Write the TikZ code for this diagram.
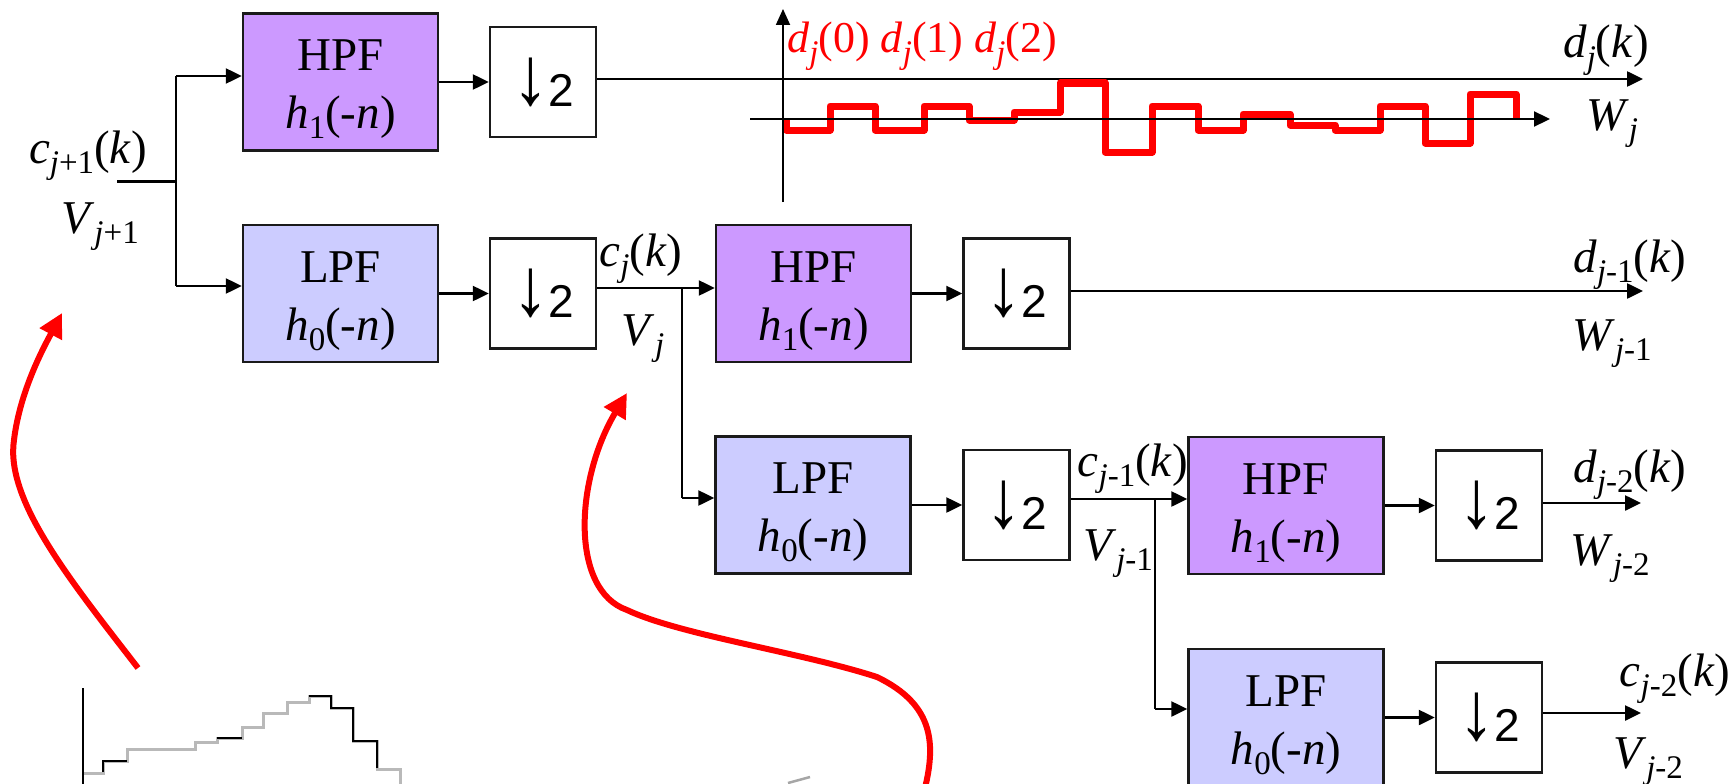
\documentclass[tikz,border=0pt]{standalone}
\usepackage{fontspec}
\setmainfont{Liberation Serif}
\newfontfamily\arialfam{Liberation Sans}
\usetikzlibrary{arrows.meta}
\definecolor{hpfc}{HTML}{CC99FF}
\definecolor{lpfc}{HTML}{CCCCFF}
\definecolor{edgec}{HTML}{1A1A1A}
\newcommand\sbx[1]{\raisebox{-10pt}{\fontsize{33}{33}\selectfont #1}}
\newcommand\iv[1]{\textit{#1}}
\newcommand\hpftext{\rule{0pt}{46pt}HPF\\\iv{h}\sbx{1}(-\iv{n})}
\newcommand\lpftext{\rule{0pt}{46pt}LPF\\\iv{h}\sbx{0}(-\iv{n})}
\newcommand\dntext{\raisebox{2pt}{\scalebox{1.6}[1.8]{↓}}\kern-1pt 2}
\begin{document}
\begin{tikzpicture}[x=1pt,y=-1pt,
  filt/.style={draw=edgec, line width=2.5pt, minimum width=195pt, minimum height=137pt, inner sep=0pt, align=center, font=\fontsize{47}{58}\selectfont},
  hpf/.style={filt, fill=hpfc},
  lpf/.style={filt, fill=lpfc},
  dbox/.style={draw=edgec, line width=2.5pt, fill=white, minimum width=106pt, minimum height=110pt, inner sep=0pt, font=\arialfam\fontsize{46}{46}\selectfont},
  conn/.style={line width=2.5pt, draw=black},
  arr/.style={conn, -{Triangle[length=16pt,width=15pt]}},
  lab/.style={inner sep=0pt, anchor=base, font=\fontsize{47}{47}\selectfont},
  redlab/.style={inner sep=0pt, anchor=base west, text=red, font=\fontsize{44}{44}\selectfont},
  redarr/.style={draw=red, line width=6pt, -{Triangle[length=24pt,width=24pt]}},
  sig/.style={draw=red, line width=7pt, line join=round},
]
\clip (0,0) rectangle (1732,784);
\fill[white] (0,0) rectangle (1732,784);

% filter and downsampler boxes
\node[hpf] (H1) at (340.5,82) {\hpftext};
\node[dbox] (D1) at (543,82) {\dntext};
\node[lpf] (L1) at (340.5,293.5) {\lpftext};
\node[dbox] (D2) at (543,293.5) {\dntext};
\node[hpf] (H2) at (813.5,293.5) {\hpftext};
\node[dbox] (D3) at (1016.5,293.5) {\dntext};
\node[lpf] (L2) at (813,505) {\lpftext};
\node[dbox] (D4) at (1016.5,505) {\dntext};
\node[hpf] (H3) at (1286,505.5) {\hpftext};
\node[dbox] (D5) at (1489,505.5) {\dntext};
\node[lpf] (L3) at (1286,717.5) {\lpftext};
\node[dbox] (D6) at (1489,717.5) {\dntext};

% junctions and free ends
\coordinate (in0) at (117,181);
\coordinate (br0) at (176,181);
\coordinate (br0t) at (176,76);
\coordinate (br0b) at (176,286);
\coordinate (brj) at (682,288);
\coordinate (brjb) at (682,498);
\coordinate (brk) at (1155,499);
\coordinate (brkb) at (1155,709);
\coordinate (endA) at (1643,79);
\coordinate (endB) at (1643,291);
\coordinate (endC) at (1641,503);
\coordinate (endD) at (1641,713);

% connectors
\draw[conn, line width=3pt] (in0) -- (br0);
\draw[conn] (br0t) -- (br0b);
\draw[arr] (br0t) -- (br0t -| H1.west);
\draw[arr] (br0b) -- (br0b -| L1.west);
\draw[arr] (H1.east) -- (D1.west);
\draw[arr] (L1.east) -- (D2.west);
\draw[arr] (D1.east |- endA) -- (endA);
\draw[arr] (D2.east |- brj) -- (brj -| H2.west);
\draw[conn] (brj) -- (brjb);
\draw[arr] (brjb) -- (brjb -| L2.west);
\draw[arr] (H2.east) -- (D3.west);
\draw[arr] (L2.east) -- (D4.west);
\draw[arr] (D3.east |- endB) -- (endB);
\draw[arr] (D4.east |- brk) -- (brk -| H3.west);
\draw[conn] (brk) -- (brkb);
\draw[arr] (brkb) -- (brkb -| L3.west);
\draw[arr] (H3.east) -- (D5.west);
\draw[arr] (L3.east) -- (D6.west);
\draw[arr] (D5.east |- endC) -- (endC);
\draw[arr] (D6.east |- endD) -- (endD);

% wavelet coefficient plot
\draw[sig] (786,119) -- (786,130) -- (830,130) -- (830,106) -- (875,106) -- (875,130) -- (924,130) -- (924,106) -- (969,106) -- (969,120) -- (1014,120) -- (1014,112) -- (1060,112) -- (1060,83) -- (1105,83) -- (1105,152) -- (1152,152) -- (1152,106) -- (1198,106) -- (1198,130) -- (1243,130) -- (1243,114) -- (1290,114) -- (1290,125) -- (1335,125) -- (1335,130) -- (1380,130) -- (1380,106) -- (1425,106) -- (1425,143) -- (1470,143) -- (1470,94) -- (1516,94) -- (1516,119);
\coordinate (vax0) at (783,202);
\coordinate (vax1) at (783,9);
\coordinate (hax0) at (750,119);
\coordinate (hax1) at (1550,119);
\draw[line width=1.8pt, -{Triangle[length=16pt,width=14pt]}] (vax0) -- (vax1);
\draw[arr, line width=2.2pt] (hax0) -- (hax1);

% labels
\node[lab] (lc1) at (88,163) {\iv{c}\sbx{\iv{j}+1}(\iv{k})};
\node[lab] (lv1) at (100,233) {\iv{V}\sbx{\iv{j}+1}};
\node[lab] (lcj) at (641,266) {\iv{c}\sbx{\iv{j}}(\iv{k})};
\node[lab] (lvj) at (643,345) {\iv{V}\sbx{\iv{j}}};
\node[lab] (lcj1) at (1133,476) {\iv{c}\sbx{\iv{j}-1}(\iv{k})};
\node[lab] (lvj1) at (1118,560) {\iv{V}\sbx{\iv{j}-1}};
\node[lab] (ldj) at (1606,58) {\iv{d}\sbx{\iv{j}}(\iv{k})};
\node[lab] (lwj) at (1612,130) {\iv{W}\sbx{\iv{j}}};
\node[lab] (ldj1) at (1630,272) {\iv{d}\sbx{\iv{j}-1}(\iv{k})};
\node[lab] (lwj1) at (1612,350) {\iv{W}\sbx{\iv{j}-1}};
\node[lab] (ldj2) at (1630,482) {\iv{d}\sbx{\iv{j}-2}(\iv{k})};
\node[lab] (lwj2) at (1610,565) {\iv{W}\sbx{\iv{j}-2}};
\node[lab] (lcj2) at (1675,686) {\iv{c}\sbx{\iv{j}-2}(\iv{k})};
\node[lab] (lvj2) at (1648,768) {\iv{V}\sbx{\iv{j}-2}};
\node[redlab] (rl) at (787,53) {\iv{d}\sbx{\iv{j}}(0) \iv{d}\sbx{\iv{j}}(1) \iv{d}\sbx{\iv{j}}(2)};

% red curved arrows
\coordinate (a1s) at (138,668);
\coordinate (a1m) at (14,440);
\coordinate (a1t) at (62,313);
\draw[redarr] (a1s) .. controls (70,580) and (5,500) .. (a1m) .. controls (20,390) and (45,345) .. (a1t);
\coordinate (a2s) at (924,792);
\coordinate (a2m) at (877,677);
\coordinate (a2n) at (627,610);
\coordinate (a2t) at (627,393);
\draw[redarr] (a2s) .. controls (936,745) and (935,705) .. (a2m) .. controls (800,652) and (680,635) .. (a2n) .. controls (570,590) and (575,480) .. (a2t);

% approximation signal sketch (bottom left)
\draw[draw=gray!55, line width=3pt] (83,773) -- (103,773) -- (103,761) -- (127,761) -- (127,749) -- (195,749) -- (195,742) -- (217,742) -- (217,738) -- (242,738) -- (242,727) -- (263,727) -- (263,713) -- (287,713) -- (287,702) -- (309,702) -- (309,696) -- (331,696) -- (331,708) -- (353,708) -- (353,741) -- (377,741) -- (377,769) -- (400,769) -- (400,790);
\draw[draw=black, line width=1.4pt] (103,772) -- (103,761) -- (127,761);
\draw[draw=black, line width=1.4pt] (217,738) -- (242,738);
\draw[draw=black, line width=1.4pt] (309,696) -- (331,696) -- (331,708) -- (353,708) -- (353,741) -- (377,741) -- (377,768);
\draw[line width=2pt] (83,688) -- (83,790);
\draw[draw=gray!70, line width=2.5pt] (788,783) -- (810,777);
\end{tikzpicture}
\end{document}
